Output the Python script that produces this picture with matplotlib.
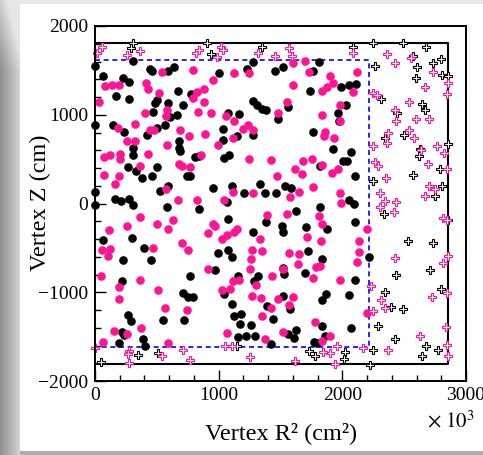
import numpy as np
import matplotlib
matplotlib.use('Agg')
import matplotlib.pyplot as plt
from matplotlib.ticker import MultipleLocator

plt.rcParams['font.family'] = ['Liberation Serif', 'DejaVu Serif']
plt.rcParams['mathtext.fontset'] = 'stix'

# vertex R^2 in units of 10^3 cm^2, vertex Z in cm
# filled markers: inside the fiducial cut, open crosses: outside it
black_in_r2 = [305, 0, 68, 229, 278, 170, 278, 445, 461, 588, 639, 1005, 1227, 1275, 674, 774, 499, 485, 593, 714,
               466, 607, 661, 1073, 1167, 1275, 1307, 1348, 1383, 0, 143, 235, 418, 504, 566, 1038, 1146, 1275, 682, 1032,
               682, 688, 305, 310, 809, 844, 1043, 1086, 264, 332, 378, 499, 458, 741, 768, 1105, 952, 1334, 1375, 1205,
               1070, 526, 593, 162, 208, 278, 310, 0,
               1455, 1523, 1760, 1814, 1738, 1986, 2056, 2110, 2029, 1563, 1482, 1765, 1967, 1975, 1922, 2067, 2008, 2035,
               2102, 1820, 1536, 1582, 1464, 2056, 2094,
               0, 585, 844, 1078, 1383, 1280, 68, 297, 396, 229, 453, 992, 1078, 1105, 970, 216, 768, 709, 755, 795,
               1043, 1105, 1159, 1321, 1286, 1388, 1124, 1178, 1173, 1259, 1221, 1159, 1294, 264, 289, 216, 235, 197, 386, 405,
               553, 720, 1420,
               1819, 1625, 1509, 1523, 1706, 1879, 2102, 1725, 1838, 1523, 1528, 1698, 2105, 2218, 1868, 2056, 1833, 1577,
               1517, 1437, 1833, 1625, 1563, 1612, 1860, 2067, 1771, 1792]
black_in_z = [1611, 1551, 1442, 1412, 1367, 1213, 1179, 1513, 1494, 1494, 1543, 1468, 1513, 1592, 1273, 1235, 1168, 1138, 1130, 1112,
              1029, 973, 999, 1018, 1010, 1160, 1112, 1063, 1055, 886, 886, 811, 774, 849, 886, 838, 763, 774, 699, 710,
              624, 597, 624, 549, 522, 537, 511, 549, 410, 361, 286, 410, 305, 305, 305, 192, 173, 222, 117, 117,
              12, 136, 200, 53, 23, 49, -14, 128,
              1498, 1543, 1498, 1600, 1262, 1310, 1337, 1348, 1112, 1082, 950, 804, 1018, 924, 616, 575, 474, 474,
              305, 425, 200, 173, 117, 42, -3,
              -14, -41, -63, -176, -214, -326, -409, -390, -503, -634, -641, -559, -529, -604, -746, -878, -821, -1009, -1058, -1054,
              -1020, -1129, -814, -814, -878, -1159, -1272, -1242, -1354, -1373, -1489, -1504, -1489, -1261, -1328, -1452, -1478, -1572, -1527, -1602,
              -1309, -1317, -1583,
              -41, -90, -251, -322, -266, -289, -214, -540, -626, -728, -791, -784, -866, -604, -1017, -1028, -1092, -1189,
              -1047, -1302, -1377, -1429, -1467, -1516, -1489, -1403, -1565, -1572]

pink_in_r2 = [539, 795, 1124, 1248, 81, 140, 197, 33, 410, 431, 520, 822, 881, 952, 795, 881, 405, 585, 574, 836,
              938, 1057, 1124, 189, 324, 445, 477, 687, 763, 889, 1200, 1240, 1275, 1113, 256, 324, 580, 997, 857, 431,
              202, 202, 73, 122, 1248, 1426, 682, 701, 768, 364, 192, 162, 73, 1280, 1119, 1043, 574, 674, 822,
              1598, 1698, 1733, 2121, 1900, 1922, 1879, 1833, 1604, 2083, 1550, 1482, 1981, 1833, 1981, 1860, 1852, 1935,
              1679, 1752, 1617, 1671, 1474, 1833, 1913, 1967, 1765, 1981, 1989, 1652, 1577,
              364, 1388, 504, 634, 262, 116, 593, 911, 957, 970, 1030, 1124, 1146, 1065, 1334, 701, 755, 1272, 1353, 60,
              122, 108, 466, 46, 364, 197, 197, 512, 911, 1259, 1253, 1119, 1167, 1299, 1272, 1342, 1024, 1092, 566, 747,
              1348, 154, 62, 372, 256, 593, 1070, 1375,
              1550, 1814, 1833, 1717, 1827, 1571, 1652, 1644, 1790, 1819, 2121, 2137, 2137, 2202, 1765, 1981, 1428, 1517,
              1482, 1598, 1571, 1423, 2202, 1779, 1517, 1900, 1833]
pink_in_z = [1487, 1506, 1468, 1468, 1325, 1337, 1337, 1149, 1356, 1288, 1250, 1254, 1288, 1393, 1187, 1149, 1025, 1055, 988, 1036,
             1018, 988, 935, 849, 894, 830, 830, 830, 763, 785, 838, 886, 830, 736, 699, 699, 661, 661, 549, 556,
             560, 500, 522, 549, 500, 485, 447, 425, 410, 417, 305, 222, 324, 117, 128, 34, 162, 34, 42,
             1581, 1607, 1487, 1487, 1438, 1356, 1310, 1273, 1337, 1254, 1149, 1018, 1112, 999, 924, 811, 763, 736,
             474, 500, 387, 335, 312, 436, 342, 387, 185, 117, 4, 128, 72,
             -154, -127, -229, -184, -259, -304, -289, -334, -229, -251, -401, -323, -289, -352, -401, -446, -529, -529, -532, -529,
             -514, -589, -503, -814, -866, -941, -1077, -971, -735, -623, -739, -878, -859, -915, -1047, -1066, -971, -964, -1178, -1204,
             -1272, -1441, -1564, -1403, -1471, -1572, -1459, -1527,
             -116, -139, -229, -379, -427, -559, -566, -679, -720, -700, -664, -551, -427, -289, -840, -859, -821, -739,
             -1077, -1054, -1141, -1178, -1234, -1339, -1452, -1497, -1553]

black_out_r2 = [305, 289, 903, 938, 1353,
                2089, 2250, 2493, 2676, 2264, 2574, 2601, 2730, 2795, 2803, 2857, 2595, 2310, 2439, 2641, 2668, 2498, 2345,
                2857, 2628, 2622, 2568, 2789, 2803, 2749, 2245,
                46, 345, 512, 1146,
                2339, 2528, 2736, 2709, 2434, 2795, 2345, 2391, 2493, 2291, 2426, 2674, 2776, 2647, 2245, 2021, 2013, 1733,
                1779, 2224, 2857]
black_out_z = [1806, 1757, 1813, 1682, 1761,
               1768, 1806, 1806, 1768, 1551, 1663, 1536, 1588, 1626, 1449, 1431, 1412, 1179, 1018, 1123, 1048, 774, 736,
               672, 612, 537, 316, 387, 192, 80, 248,
               -1786, -1711, -1685, -1610,
               -116, -427, -446, -746, -803, -964, -1002, -1171, -1189, -1377, -1527, -1610, -1647, -1715, -1647, -1677, -1752, -1666,
               -1722, -1816, -184]

pink_out_r2 = [19, 60, 262, 364, 817, 838, 1022, 1038, 984, 1321,
               1569, 1590, 1455, 2083, 2364, 2426, 2552, 2730, 2668, 2857, 2843, 2250, 2277, 2541, 2426, 2431, 2595, 2700,
               2372, 2364, 2582, 2539, 2250, 2763, 2822, 2633, 2264, 2291, 2353, 2695, 2849, 2703, 2749, 2668, 2304, 2345, 2434,
               0, 278, 264, 278, 539, 714, 768, 1051, 1105, 1253,
               2304, 2418, 2816, 2849, 2426, 2811, 2857, 2728, 2849, 2229, 2310, 2345, 2245, 2838, 2628, 2849, 2372, 2852,
               2164, 1954, 1900, 1846, 1940, 1617]
pink_out_z = [1701, 1761, 1675, 1723, 1701, 1731, 1768, 1731, 1656, 1701,
              1750, 1663, 1663, 1701, 1686, 1588, 1637, 1487, 1318, 1356, 1235, 1250, 1224, 1149, 1055, 924, 950, 950,
              793, 680, 736, 830, 650, 650, 567, 605, 462, 417, 286, 443, 387, 192, 162, 80, 117, 23, 12,
              -1628, -1658, -1692, -1797, -1715, -1647, -1760, -1610, -1610, -1733,
              -41, -101, -165, -184, -615, -671, -589, -1054, -1009, -926, -1084, -1178, -1216, -1392, -1489, -1591, -1647, -1715,
              -1628, -1602, -1685, -1677, -1805, -1771]

# detector boundary and fiducial cut
det_r2, det_z = 2855, 1810
fid_r2, fid_z = 2215, 1612

PINK = '#ff1493'

fig = plt.figure(figsize=(4.83, 4.55), dpi=100)

# grey canvas border like the original viewer
bg = np.ones((455, 483, 3))
bg[:4, :, :] = 0.91
bg[451:, :, :] = 0.68
xs = np.arange(20) / 20.0
for row in range(455):
    top = max(0.0, 1 - row / 70.0) * 0.25
    bg[row, :20, :] = np.clip(0.56 + 0.28 * xs + top, 0, 0.9)[:, None]
bgax = fig.add_axes([0, 0, 1, 1], zorder=-1)
bgax.imshow(bg, aspect='auto', interpolation='bilinear')
bgax.axis('off')

ax = fig.add_axes([95 / 483, 1 - 381 / 455, 371 / 483, 355 / 455])

ax.plot([0, det_r2, det_r2, 0], [det_z, det_z, -det_z, -det_z], color='black', lw=1.5)
ax.plot([0, fid_r2, fid_r2, 0], [fid_z, fid_z, -fid_z, -fid_z], color='#0000ff', lw=1.2,
        linestyle=(0, (3, 2.2)))

ax.plot(black_in_r2, black_in_z, 'o', color='black', ms=6.2, mew=0, clip_on=False)
ax.plot(pink_in_r2, pink_in_z, 'o', color=PINK, ms=6.2, mew=0, clip_on=False)
ax.plot(black_out_r2, black_out_z, 'P', mfc='white', mec='black', ms=6.3, mew=0.8, clip_on=False)
ax.plot(pink_out_r2, pink_out_z, 'P', mfc='white', mec=PINK, ms=6.3, mew=0.8, clip_on=False)

ax.set_xlim(0, 3000)
ax.set_ylim(-2000, 2000)
ax.xaxis.set_major_locator(MultipleLocator(1000))
ax.xaxis.set_minor_locator(MultipleLocator(200))
ax.yaxis.set_major_locator(MultipleLocator(1000))
ax.yaxis.set_minor_locator(MultipleLocator(200))
ax.tick_params(which='both', direction='in', top=False, right=False, labelsize=14, width=1)
ax.tick_params(which='major', length=8)
ax.tick_params(which='minor', length=4)
ax.tick_params(axis='y', pad=5)
ax.tick_params(axis='x', pad=4)
for s in ax.spines.values():
    s.set_linewidth(1.4)

fig.text(281 / 483, 1 - 433 / 455, 'Vertex R² (cm²)', ha='center', va='center', fontsize=17.5)
fig.text(40 / 483, 1 - 203 / 455, 'Vertex Z (cm)', ha='center', va='center', rotation=90, fontsize=17.5)
fig.text(451 / 483, 1 - 422 / 455, r'$\times\ 10^{3}$', ha='center', va='center', fontsize=15)

fig.savefig('out.png', dpi=100)
